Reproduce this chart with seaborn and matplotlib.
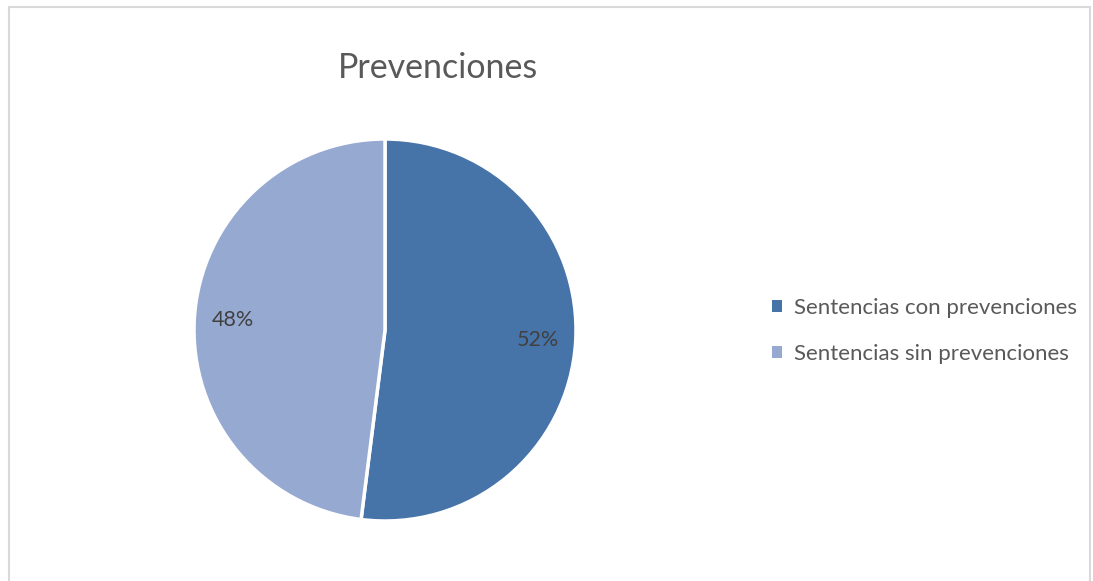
import matplotlib
matplotlib.use("Agg")
import matplotlib.pyplot as plt
import seaborn as sns
from matplotlib.patches import Rectangle, Patch

categories = ["Sentencias con prevenciones", "Sentencias sin prevenciones"]
values = [52, 48]
colors = ["#4674A9", "#95A9D1"]
title = "Prevenciones"

sns.set_theme(style="white")
plt.rcParams["font.family"] = ["Lato", "DejaVu Sans"]

fig = plt.figure(figsize=(10.93, 5.81), dpi=100)
fig.patch.set_facecolor("white")
# chart border (Excel chart area)
fig.add_artist(Rectangle((8.5 / 1093, -0.05), (1089.5 - 8.5) / 1093, 1 - 7.5 / 581 + 0.05,
                         transform=fig.transFigure, fill=False, edgecolor="#D9D9D9", linewidth=1.5))

ax = fig.add_axes([(385 - 191) / 1093, (581 - 330 - 191) / 581, 382 / 1093, 382 / 581])
wedges, texts, autotexts = ax.pie(
    values, colors=colors, startangle=90, counterclock=False,
    autopct=lambda p: f"{p:.0f}%", pctdistance=0.8,
    wedgeprops=dict(edgecolor="white", linewidth=2.5),
    textprops=dict(color="#404040", fontsize=15.5),
)
ax.set_xlim(-1, 1)
ax.set_ylim(-1, 1)
ax.set_aspect("equal")
ax.axis("off")

fig.text(438 / 1093, 1 - 68 / 581, title, ha="center", va="center", fontsize=24.5, color="#595959")

handles = [Patch(facecolor=c, edgecolor="none") for c in colors]
leg = fig.legend(handles, categories, loc="center left", bbox_to_anchor=(752 / 1093, 1 - 331 / 581),
                 frameon=False, fontsize=16, handlelength=0.45, handleheight=0.45,
                 handletextpad=0.55, labelspacing=1.15, labelcolor="#595959")

fig.savefig("out.png", dpi=100, facecolor="white")
